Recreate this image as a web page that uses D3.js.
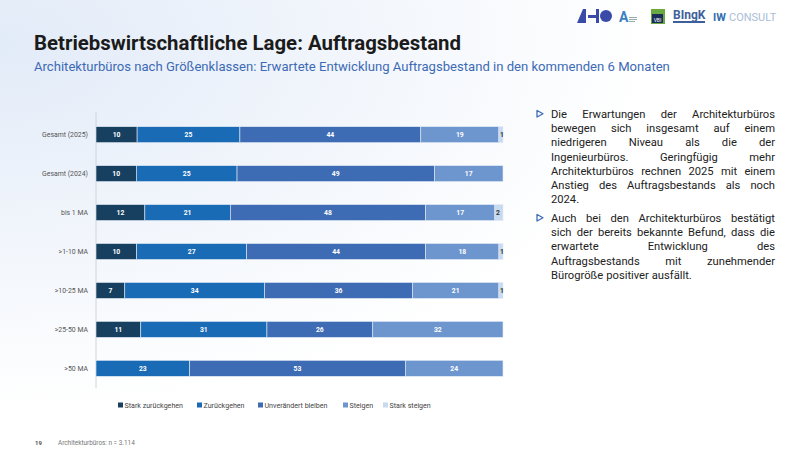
<!DOCTYPE html>
<html>
<head>
<meta charset="utf-8">
<script src="https://cdn.jsdelivr.net/npm/d3@7"></script>
<style>
  body { margin: 0; background: #fff; }
  svg { display: block; font-family: Roboto, "Noto Sans", sans-serif; }
</style>
</head>
<body>
<svg id="chart" width="810" height="456"></svg>
<script>
// categories and series
var categories = ["Gesamt (2025)", "Gesamt (2024)", "bis 1 MA", ">1-10 MA", ">10-25 MA", ">25-50 MA", ">50 MA"];
var seriesNames = ["Stark zurückgehen", "Zurückgehen", "Unverändert bleiben", "Steigen", "Stark steigen"];
var starkZurueck = [10, 10, 12, 10, 7, 11, 0];
var zurueck      = [25, 25, 21, 27, 34, 31, 23];
var unveraendert = [44, 49, 48, 44, 36, 26, 53];
var steigen      = [19, 17, 17, 18, 21, 32, 24];
var starkSteigen = [1, 0, 2, 1, 1, 0, 0];
var colors = ["#173f5f", "#1a6bb5", "#3e6cb4", "#6d96cf", "#c6daf0"];

var bullets = [
  ["Die Erwartungen der Architekturbüros",
   "bewegen sich insgesamt auf einem",
   "niedrigeren Niveau als die der",
   "Ingenieurbüros. Geringfügig mehr",
   "Architekturbüros rechnen 2025 mit einem",
   "Anstieg des Auftragsbestands als noch",
   "2024."],
  ["Auch bei den Architekturbüros bestätigt",
   "sich der bereits bekannte Befund, dass die",
   "erwartete Entwicklung des",
   "Auftragsbestands mit zunehmender",
   "Bürogröße positiver ausfällt."]
];

var svg = d3.select("#chart");

// background wash
var defs = svg.append("defs");
var grad = defs.append("radialGradient").attr("id", "bg")
  .attr("cx", "0%").attr("cy", "10%").attr("r", "80%");
grad.append("stop").attr("offset", "0%").attr("stop-color", "#e2ebf8");
grad.append("stop").attr("offset", "100%").attr("stop-color", "#ffffff");
svg.append("rect").attr("width", 810).attr("height", 456).attr("fill", "url(#bg)");

// header
svg.append("text").attr("x", 34).attr("y", 50)
  .attr("font-size", 20.4).attr("font-weight", 700).attr("fill", "#1b1b1b")
  .text("Betriebswirtschaftliche Lage: Auftragsbestand");
svg.append("text").attr("x", 34).attr("y", 71)
  .attr("font-size", 13.1).attr("fill", "#3d6ab5")
  .text("Architekturbüros nach Größenklassen: Erwartete Entwicklung Auftragsbestand in den kommenden 6 Monaten");

// logos (rough)
var logo = svg.append("g");
logo.append("path").attr("d", "M577,23 L583,9 L586,9 L586,23 Z").attr("fill", "#3a4aa8");
logo.append("rect").attr("x", 588).attr("y", 15).attr("width", 8).attr("height", 3).attr("fill", "#3a4aa8");
logo.append("rect").attr("x", 596).attr("y", 9).attr("width", 3).attr("height", 14).attr("fill", "#3a4aa8");
logo.append("circle").attr("cx", 606).attr("cy", 16).attr("r", 6).attr("fill", "#3a4aa8");
logo.append("text").attr("x", 619).attr("y", 22).attr("font-size", 14).attr("font-weight", 700).attr("fill", "#3b7fc4").text("A");
logo.append("rect").attr("x", 629).attr("y", 17).attr("width", 8).attr("height", 1).attr("fill", "#9aa");
logo.append("rect").attr("x", 629).attr("y", 19).attr("width", 8).attr("height", 1).attr("fill", "#9aa");
logo.append("rect").attr("x", 629).attr("y", 21).attr("width", 6).attr("height", 1).attr("fill", "#9aa");
logo.append("rect").attr("x", 651).attr("y", 9).attr("width", 14).attr("height", 15).attr("fill", "#6aa842");
logo.append("rect").attr("x", 652).attr("y", 14).attr("width", 11).attr("height", 9).attr("fill", "#1c2c5a");
logo.append("text").attr("x", 657.5).attr("y", 21.5).attr("font-size", 5).attr("text-anchor", "middle").attr("fill", "#fff").text("VBI");
logo.append("text").attr("x", 673).attr("y", 19).attr("font-size", 12).attr("font-weight", 700).attr("fill", "#3e5f9a").text("BIngK");
logo.append("rect").attr("x", 673).attr("y", 21).attr("width", 32).attr("height", 2).attr("fill", "#3e5f9a");
logo.append("text").attr("x", 713).attr("y", 21).attr("font-size", 11).attr("font-weight", 700).attr("fill", "#2f6db0").text("IW");
logo.append("text").attr("x", 729).attr("y", 21).attr("font-size", 11).attr("fill", "#a9bdd6").text("CONSULT");

// chart
var rows = categories.map(function(c, i) {
  var vals = [starkZurueck[i], zurueck[i], unveraendert[i], steigen[i], starkSteigen[i]];
  var total = d3.sum(vals);
  var acc = 0;
  return { cat: c, segs: vals.map(function(v, k) {
    var s = { k: k, v: v, x0: acc / total, x1: (acc + v) / total };
    acc += v;
    return s;
  }) };
});

var x = d3.scaleLinear().domain([0, 1]).range([96, 503]);
var y = d3.scaleBand().domain(categories).range([115, 388]).paddingInner(0.59).paddingOuter(0.3);

svg.append("line").attr("x1", 96).attr("x2", 96).attr("y1", 112).attr("y2", 388)
  .attr("stroke", "#d0d4da").attr("stroke-width", 1);

var yAxis = svg.append("g").attr("transform", "translate(96,0)")
  .call(d3.axisLeft(y).tickSize(0).tickPadding(8));
yAxis.select(".domain").remove();
yAxis.selectAll("text").attr("font-size", 6.9).attr("fill", "#555").attr("font-family", "Roboto, sans-serif");

var row = svg.selectAll(".row").data(rows).enter().append("g")
  .attr("transform", function(d) { return "translate(0," + y(d.cat) + ")"; });

row.selectAll("rect").data(function(d) { return d.segs.filter(function(s) { return s.v > 0; }); })
  .enter().append("rect")
  .attr("x", function(s) { return x(s.x0); })
  .attr("width", function(s) { return x(s.x1) - x(s.x0); })
  .attr("height", y.bandwidth())
  .attr("fill", function(s) { return colors[s.k]; })
  .attr("stroke", "#e3ebf6").attr("stroke-width", 0.6);

row.selectAll("text").data(function(d) { return d.segs.filter(function(s) { return s.v > 0; }); })
  .enter().append("text")
  .attr("x", function(s) { return s.k === 4 ? x(s.x0) + 3 : (x(s.x0) + x(s.x1)) / 2; })
  .attr("y", y.bandwidth() / 2)
  .attr("dy", "0.35em")
  .attr("text-anchor", "middle")
  .attr("font-size", 6.8).attr("font-weight", 700)
  .attr("fill", function(s) { return s.k === 4 ? "#333" : "#fff"; })
  .text(function(s) { return s.v; });

// legend
var legendX = [118, 197, 258, 343, 383];
var legend = svg.selectAll(".leg").data(seriesNames).enter().append("g")
  .attr("transform", function(d, i) { return "translate(" + legendX[i] + ",405)"; });
legend.append("rect").attr("x", 0).attr("y", -2.5).attr("width", 5).attr("height", 5)
  .attr("fill", function(d, i) { return colors[i]; });
legend.append("text").attr("x", 6.5).attr("y", 0).attr("dy", "0.35em")
  .attr("font-size", 7.1).attr("fill", "#444").text(function(d) { return d; });

// footer
svg.append("text").attr("x", 35).attr("y", 445).attr("font-size", 6).attr("font-weight", 700).attr("fill", "#555").text("19");
svg.append("text").attr("x", 58).attr("y", 445).attr("font-size", 6.4).attr("fill", "#777").text("Architekturbüros: n = 3.114");

// bullet text, justified
var textLeft = 551, textRight = 775, lineH = 14.2;
var paraY = [118, 222];
bullets.forEach(function(lines, p) {
  svg.append("path")
    .attr("d", "M" + 537 + "," + (paraY[p] - 7.5) + " L" + 543 + "," + (paraY[p] - 4.2) + " L" + 537 + "," + (paraY[p] - 1) + " Z")
    .attr("fill", "none").attr("stroke", "#3d6ab5").attr("stroke-width", 1.3).attr("stroke-linejoin", "round");
  lines.forEach(function(line, j) {
    var yy = paraY[p] + j * lineH;
    var g = svg.append("text").attr("y", yy).attr("font-size", 11.2).attr("fill", "#222");
    var words = line.split(" ");
    var spans = words.map(function(w) { return g.append("tspan").text(w); });
    var widths = spans.map(function(s) { return s.node().getComputedTextLength(); });
    var last = j === lines.length - 1;
    var gap = last || words.length < 2 ? 3.1 : (textRight - textLeft - d3.sum(widths)) / (words.length - 1);
    var cx = textLeft;
    spans.forEach(function(s, k) { s.attr("x", cx); cx += widths[k] + gap; });
  });
});
</script>
</body>
</html>
